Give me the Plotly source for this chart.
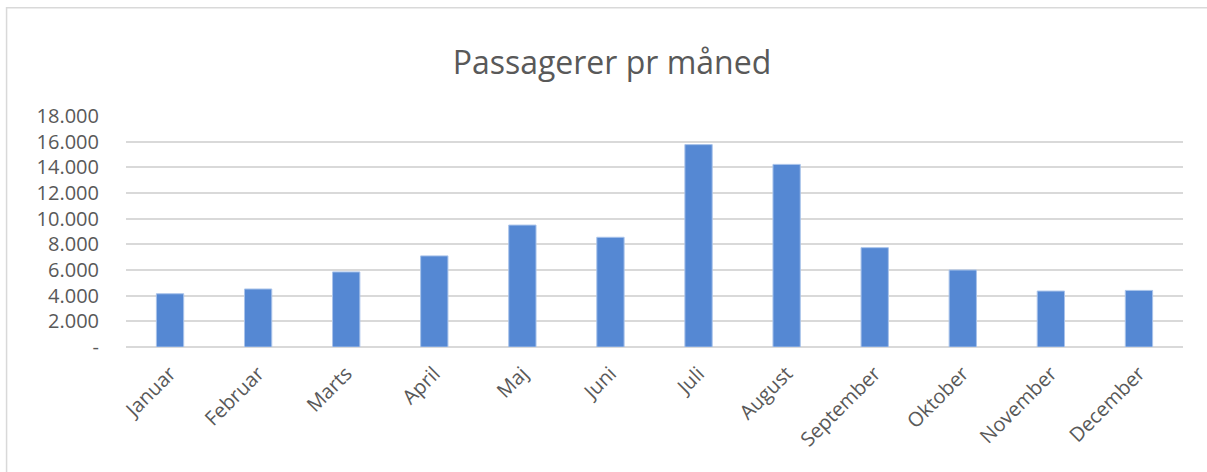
import plotly.graph_objects as go

months = ["Januar", "Februar", "Marts", "April", "Maj", "Juni", "Juli",
          "August", "September", "Oktober", "November", "December"]
passengers = [4150, 4520, 5850, 7100, 9500, 8550, 15770, 14230, 7740, 6000, 4360, 4410]
tick_vals = [0, 2000, 4000, 6000, 8000, 10000, 12000, 14000, 16000, 18000]
tick_text = ["-", "2.000", "4.000", "6.000", "8.000", "10.000", "12.000", "14.000", "16.000", "18.000"]
title_text = "Passagerer pr måned"

FONT = "Open Sans"
GRAY = "#595959"

fig = go.Figure(go.Bar(
    x=months, y=passengers,
    marker=dict(color="#5588D3", line=dict(color="#A9C3EA", width=1)),
))

fig.update_layout(
    width=1207, height=472,
    margin=dict(l=126, r=24, t=116, b=125),
    paper_bgcolor="white", plot_bgcolor="white",
    bargap=0.69,
    showlegend=False,
    font=dict(family=FONT, color=GRAY),
    title=dict(text=title_text, x=0.507, xanchor="center", y=0.868, yanchor="middle",
               yref="container", font=dict(family=FONT, size=32, color=GRAY)),
    xaxis=dict(tickangle=-45, tickfont=dict(family=FONT, size=20, color=GRAY),
               showgrid=False, showline=False, ticks="", ticklabelstandoff=10,
               fixedrange=True),
    yaxis=dict(range=[0, 18000], tickvals=tick_vals, ticktext=tick_text,
               tickfont=dict(family=FONT, size=20, color=GRAY),
               showgrid=True, gridcolor="#D9D9D9", gridwidth=1.5,
               zeroline=True, zerolinecolor="#D9D9D9", zerolinewidth=1.5,
               showline=False, ticks="", ticklabelstandoff=26, fixedrange=True),
)

# chart frame
fig.add_shape(type="rect", xref="paper", yref="paper",
              x0=-0.113, x1=1.2, y0=-1.0, y1=1.469,
              line=dict(color="#D9D9D9", width=1.5), fillcolor="rgba(0,0,0,0)", layer="below")

fig.write_html("out.html", config={"displayModeBar": False},
               post_script="document.body.style.margin='0';document.body.style.overflow='hidden';")
